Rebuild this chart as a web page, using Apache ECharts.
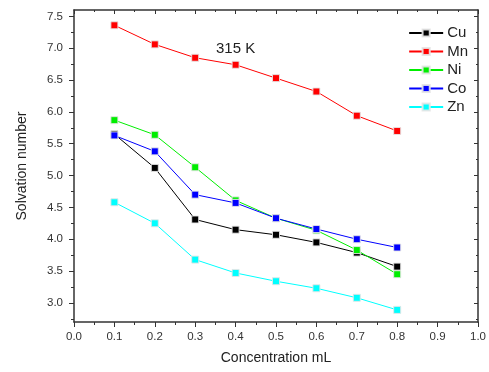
<!DOCTYPE html>
<html>
<head>
<meta charset="utf-8">
<script src="https://cdn.jsdelivr.net/npm/echarts@6/dist/echarts.min.js"></script>
<style>
  html, body { margin: 0; padding: 0; background: #fff; }
  #chart { width: 489px; height: 372px; }
</style>
</head>
<body>
<div id="chart"></div>
<script>
const concentration = [0.1, 0.2, 0.3, 0.4, 0.5, 0.6, 0.7, 0.8]
const cu = [5.65, 5.12, 4.31, 4.15, 4.07, 3.95, 3.79, 3.57]
const mn = [7.36, 7.06, 6.85, 6.74, 6.53, 6.32, 5.94, 5.70]
const ni = [5.87, 5.64, 5.13, 4.61, 4.33, 4.14, 3.83, 3.45]
const co = [5.63, 5.38, 4.70, 4.57, 4.33, 4.16, 4.00, 3.87]
const zn = [4.58, 4.25, 3.68, 3.47, 3.34, 3.23, 3.08, 2.89]
const yMajor = [3.0, 3.5, 4.0, 4.5, 5.0, 5.5, 6.0, 6.5, 7.0, 7.5]
const yMinor = [2.75, 3.25, 3.75, 4.25, 4.75, 5.25, 5.75, 6.25, 6.75, 7.25]

const font = 'Liberation Sans, Arial, sans-serif'
const axisColor = '#333'

function pairs(values) {
  return concentration.map((c, i) => [c, values[i]])
}

function makeSeries(name, values, color) {
  return {
    name: name,
    type: 'line',
    data: pairs(values),
    symbol: 'rect',
    symbolSize: 7,
    lineStyle: { color: color, width: 1 },
    itemStyle: { color: color, borderColor: 'rgba(230,230,230,0.9)', borderWidth: 1 },
    xAxisIndex: 0,
    yAxisIndex: 0,
    z: 3
  }
}

const chart = echarts.init(document.getElementById('chart'))

const yBase = { type: 'value', min: 2.7, max: 7.6, splitLine: { show: false } }

chart.setOption({
  animation: false,
  grid: { left: 74, right: 11, top: 10, bottom: 50, containLabel: false },
  legend: {
    orient: 'vertical',
    right: 16,
    top: 19,
    itemWidth: 34,
    itemHeight: 9,
    itemGap: 0.5,
    textStyle: { fontFamily: font, fontSize: 15, color: '#222', padding: [0, 0, 0, -1], lineHeight: 18 },
    data: ['Cu', 'Mn', 'Ni', 'Co', 'Zn']
  },
  graphic: [{
    type: 'text',
    left: 216,
    top: 41,
    style: { text: '315 K', font: '15px ' + font, fill: '#222' }
  }],
  xAxis: [
    {
      type: 'value',
      min: 0,
      max: 1,
      interval: 0.1,
      name: 'Concentration mL',
      nameLocation: 'middle',
      nameGap: 29,
      nameTextStyle: { fontFamily: font, fontSize: 14, color: '#222' },
      axisLine: { onZero: false, lineStyle: { color: axisColor, width: 1.5 } },
      axisTick: { inside: false, length: 5, lineStyle: { color: axisColor } },
      minorTick: { show: true, splitNumber: 2, length: 3, lineStyle: { color: axisColor } },
      axisLabel: { fontFamily: font, fontSize: 11.5, color: '#333', margin: 9, formatter: v => v.toFixed(1) },
      splitLine: { show: false }
    },
    {
      type: 'value',
      position: 'top',
      min: 0,
      max: 1,
      interval: 0.1,
      axisLine: { onZero: false, lineStyle: { color: axisColor, width: 1.5 } },
      axisTick: { inside: true, length: 4, lineStyle: { color: axisColor } },
      minorTick: { show: true, splitNumber: 2, length: 2, lineStyle: { color: axisColor } },
      axisLabel: { show: false },
      splitLine: { show: false }
    }
  ],
  yAxis: [
    Object.assign({}, yBase, {
      position: 'left',
      name: 'Solvation number',
      nameLocation: 'middle',
      nameGap: 45,
      nameTextStyle: { fontFamily: font, fontSize: 14, color: '#222' },
      axisLine: { show: true, onZero: false, lineStyle: { color: axisColor, width: 1.5 } },
      axisTick: { show: true, length: 5, customValues: yMajor, lineStyle: { color: axisColor } },
      axisLabel: { fontFamily: font, fontSize: 11.5, color: '#333', margin: 11, customValues: yMajor, formatter: v => v.toFixed(1) }
    }),
    Object.assign({}, yBase, {
      position: 'left',
      axisLine: { show: false, onZero: false },
      axisTick: { show: true, length: 3, customValues: yMinor, lineStyle: { color: axisColor } },
      axisLabel: { show: false }
    }),
    Object.assign({}, yBase, {
      position: 'right',
      axisLine: { show: true, onZero: false, lineStyle: { color: axisColor, width: 1.5 } },
      axisTick: { show: true, inside: true, length: 4, customValues: yMajor, lineStyle: { color: axisColor } },
      axisLabel: { show: false }
    }),
    Object.assign({}, yBase, {
      position: 'right',
      axisLine: { show: false, onZero: false },
      axisTick: { show: true, inside: true, length: 2, customValues: yMinor, lineStyle: { color: axisColor } },
      axisLabel: { show: false }
    })
  ],
  series: [
    makeSeries('Cu', cu, '#000000'),
    makeSeries('Mn', mn, '#ff0000'),
    makeSeries('Ni', ni, '#00ee00'),
    makeSeries('Co', co, '#0000ff'),
    makeSeries('Zn', zn, '#00ffff')
  ]
})
</script>
</body>
</html>
